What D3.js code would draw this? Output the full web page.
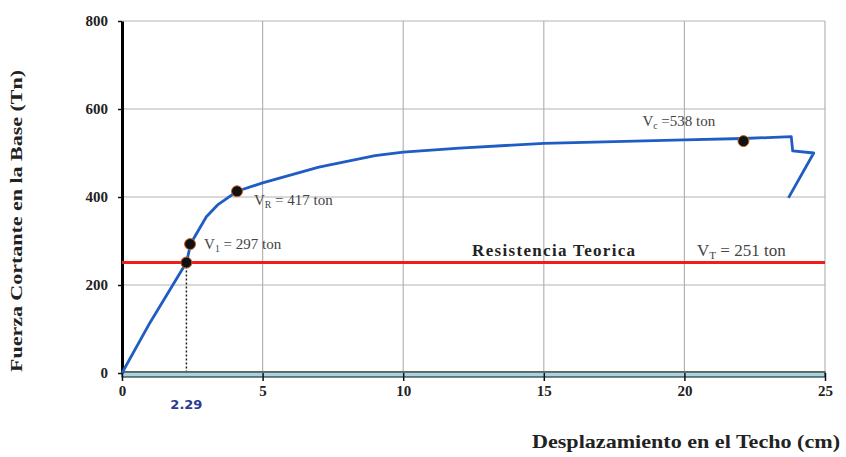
<!DOCTYPE html>
<html>
<head>
<meta charset="utf-8">
<script src="https://cdn.jsdelivr.net/npm/d3@7"></script>
<style>
  body { margin: 0; background: #fff; }
  svg { display: block; }
</style>
</head>
<body>
<div id="chart"></div>
<script>
// pushover curve: roof displacement (cm) vs base shear (Tn)
var disp  = [0, 1, 2.29, 2.45, 3.0, 3.4, 4.09, 5, 7, 9, 10, 12, 15, 20, 22.1, 23.8, 23.85, 24.6, 23.7];
var force = [0, 115, 251, 295, 355, 382, 413, 432, 468, 494, 502, 511, 522, 530, 533, 537, 505, 500, 398];

// marked points
var markX = [2.29, 2.42, 4.09, 22.1];
var markY = [251, 293, 413, 527];

var xTicks = [0, 5, 10, 15, 20, 25];
var yTicks = [0, 200, 400, 600, 800];
var theoretical = 251;
var yieldDisp = 2.29;

var serif = "Liberation Serif, Times New Roman, serif";

var margin = { top: 21, right: 21, bottom: 84, left: 122 };
var width = 846 - margin.left - margin.right;
var height = 457 - margin.top - margin.bottom;

var svg = d3.select("#chart").append("svg")
  .attr("width", 846)
  .attr("height", 457);

var g = svg.append("g")
  .attr("transform", "translate(" + margin.left + "," + margin.top + ")");

var x = d3.scaleLinear().domain([0, 25]).range([0, width]);
var y = d3.scaleLinear().domain([0, 800]).range([height, 0]);

// grid
g.selectAll(".vgrid").data(xTicks.slice(1)).enter().append("line")
  .attr("x1", function(d) { return x(d); }).attr("x2", function(d) { return x(d); })
  .attr("y1", 0).attr("y2", height)
  .attr("stroke", "#b4b4b4").attr("stroke-width", 1.2);

g.selectAll(".hgrid").data(yTicks.slice(1)).enter().append("line")
  .attr("x1", 0).attr("x2", width)
  .attr("y1", function(d) { return y(d); }).attr("y2", function(d) { return y(d); })
  .attr("stroke", "#b4b4b4").attr("stroke-width", 1.2);

// x axis band
g.append("line")
  .attr("x1", 0).attr("x2", width)
  .attr("y1", height - 1.5).attr("y2", height - 1.5)
  .attr("stroke", "#d9a070").attr("stroke-width", 1);
g.append("rect")
  .attr("x", 0).attr("y", height - 1)
  .attr("width", width).attr("height", 5)
  .attr("fill", "#a9d3de").attr("stroke", "#1e3a40").attr("stroke-width", 1.2);

var xAxis = d3.axisBottom(x).tickValues(xTicks).tickSize(4).tickSizeOuter(0);
var xg = g.append("g").attr("transform", "translate(0," + (height + 4) + ")").call(xAxis);
xg.select(".domain").remove();
xg.selectAll(".tick line").attr("stroke", "#111").attr("stroke-width", 1.5).attr("y1", -4);
xg.selectAll(".tick text")
  .attr("font-family", serif).attr("font-weight", "bold").attr("font-size", "15px")
  .attr("fill", "#222").attr("dy", "0.9em").attr("y", 5);

// y axis
var yAxis = d3.axisLeft(y).tickValues(yTicks).tickSize(4).tickSizeOuter(0);
var yg = g.append("g").call(yAxis);
yg.select(".domain").attr("stroke", "#000").attr("stroke-width", 3);
yg.selectAll(".tick line").attr("stroke", "#111").attr("stroke-width", 1.5);
yg.selectAll(".tick text")
  .attr("font-family", serif).attr("font-weight", "bold").attr("font-size", "15px")
  .attr("fill", "#222").attr("x", -14);

// theoretical resistance line
g.append("line")
  .attr("x1", 0).attr("x2", width)
  .attr("y1", y(theoretical)).attr("y2", y(theoretical))
  .attr("stroke", "#ee1c1c").attr("stroke-width", 3);

// dotted drop line at yield displacement
g.append("line")
  .attr("x1", x(yieldDisp)).attr("x2", x(yieldDisp))
  .attr("y1", y(theoretical)).attr("y2", height - 2)
  .attr("stroke", "#222").attr("stroke-width", 1.5)
  .attr("stroke-dasharray", "2,2");

// curve
var line = d3.line()
  .x(function(d) { return x(d[0]); })
  .y(function(d) { return y(d[1]); });

g.append("path")
  .datum(d3.zip(disp, force))
  .attr("fill", "none")
  .attr("stroke", "#1f5cc4")
  .attr("stroke-width", 2.8)
  .attr("stroke-linejoin", "round")
  .attr("d", line);

// markers
g.selectAll(".mark").data(d3.zip(markX, markY)).enter().append("circle")
  .attr("cx", function(d) { return x(d[0]); })
  .attr("cy", function(d) { return y(d[1]); })
  .attr("r", 5.5)
  .attr("fill", "#111")
  .attr("stroke", "#c8641e")
  .attr("stroke-width", 1);

// annotations
function note(px, py, main, sub, rest, size) {
  var t = g.append("text")
    .attr("x", px).attr("y", py)
    .attr("font-family", serif)
    .attr("font-size", size + "px")
    .attr("fill", "#444");
  t.append("tspan").text(main);
  if (sub) t.append("tspan").attr("font-size", (size * 0.65) + "px").attr("dy", 3).text(sub);
  t.append("tspan").attr("dy", sub ? -3 : 0).text(rest);
  return t;
}

note(x(2.42) + 14, y(293) + 5, "V", "1", " = 297 ton", 15);
note(x(4.09) + 17, y(413) + 14, "V", "R", " = 417 ton", 15);
note(x(22.1) - 101, y(527) - 15, "V", "c", " =538 ton", 15);
note(x(20.45), y(theoretical) - 7, "V", "T", " = 251 ton", 17);

g.append("text")
  .attr("x", x(12.45)).attr("y", y(theoretical) - 7)
  .attr("font-family", serif)
  .attr("font-weight", "bold")
  .attr("font-size", "17px")
  .attr("fill", "#222")
  .attr("textLength", 163)
  .text("Resistencia Teorica");

g.append("text")
  .attr("x", x(yieldDisp)).attr("y", height + 36)
  .attr("text-anchor", "middle")
  .attr("font-family", "DejaVu Sans, sans-serif")
  .attr("font-weight", "bold")
  .attr("font-size", "13px")
  .attr("fill", "#2b3a8f")
  .text("2.29");

// axis titles
svg.append("text")
  .attr("x", 840).attr("y", 448)
  .attr("text-anchor", "end")
  .attr("font-family", serif)
  .attr("font-weight", "bold")
  .attr("font-size", "19px")
  .attr("fill", "#222")
  .attr("textLength", 308)
  .attr("lengthAdjust", "spacingAndGlyphs")
  .text("Desplazamiento en el Techo (cm)");

svg.append("text")
  .attr("transform", "translate(22,221) rotate(-90)")
  .attr("text-anchor", "middle")
  .attr("font-family", serif)
  .attr("font-weight", "bold")
  .attr("font-size", "17px")
  .attr("fill", "#222")
  .attr("textLength", 302)
  .attr("lengthAdjust", "spacingAndGlyphs")
  .text("Fuerza Cortante en la Base (Tn)");
</script>
</body>
</html>
